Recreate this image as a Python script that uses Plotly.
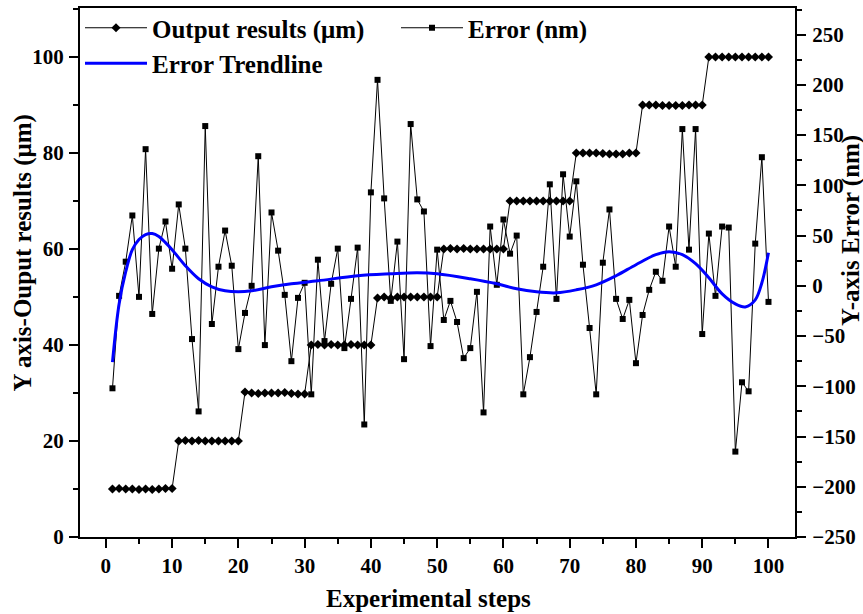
import plotly.graph_objects as go

steps = list(range(1, 101))

output_um = [
    10.0, 10.1, 10.0, 10.0, 9.9, 10.0, 9.9, 10.0, 10.1, 10.1,
    20.0, 20.1, 20.0, 20.1, 20.0, 20.0, 20.0, 20.0, 20.0, 20.0,
    30.2, 30.0, 29.9, 30.0, 30.0, 30.0, 30.1, 29.9, 29.8, 29.8,
    40.0, 40.1, 40.0, 40.1, 40.0, 40.0, 40.1, 40.0, 40.0, 40.0,
    49.8, 50.0, 49.7, 50.0, 50.0, 50.0, 50.0, 50.0, 50.0, 50.0,
    60.0, 60.1, 60.0, 60.1, 60.0, 60.0, 60.0, 60.0, 60.0, 60.0,
    70.0, 70.0, 70.0, 70.0, 70.0, 70.0, 70.0, 70.0, 70.0, 70.0,
    80.0, 80.0, 80.0, 80.0, 79.9, 79.8, 79.8, 79.8, 80.0, 80.0,
    90.0, 90.0, 90.0, 89.9, 89.9, 89.9, 89.9, 90.0, 90.0, 90.0,
    100.0, 100.0, 100.0, 100.0, 100.0, 100.0, 100.0, 100.0, 100.0, 100.0,
]

error_nm = [
    -102, -10, 24, 70, -11, 136, -28, 37, 64, 17,
    81, 37, -53, -125, 159, -38, 19, 55, 20, -63,
    -27, 0, 129, -59, 73, 35, -9, -75, -12, 3,
    -108, 26, -55, 2, 37, -62, -13, 38, -138, 93,
    205, 87, -15, 44, -73, 161, 86, 74, -60, 36,
    -34, -15, -36, -72, -62, -6, -126, 59, 1, 66,
    32, 50, -108, -71, -26, 19, 101, -13, 111, 49,
    104, 21, -42, -108, 23, 76, -13, -33, -14, -77,
    -29, -4, 14, 5, 59, 19, 156, 36, 156, -48,
    52, -10, 59, 58, -165, -96, -105, 42, 128, -16,
]

trend_x = [1, 2, 3, 4, 5, 6, 7, 8, 9, 10, 12, 14, 16, 18, 20, 22, 25, 28, 32,
           38, 43, 47, 50, 55, 59, 62, 65, 68, 71, 74, 77, 80, 83, 85, 87,
           89, 91, 93, 95, 96.5, 98, 99, 100]
trend_y = [-76, -18, 14, 36, 46, 51, 52, 49, 43, 36, 20, 7, -1, -5, -6, -5, -1, 2, 5,
           10, 12, 13, 12, 7, 2, -3, -6, -7, -4, 1, 10, 21, 31, 34, 31,
           22, 8, -8, -18, -21, -14, 3, 33]

x_ticks = list(range(0, 101, 10))
y_ticks = list(range(0, 101, 20))
y2_ticks = list(range(-250, 251, 50))

font_family = "Times New Roman, Liberation Serif, serif"
tick_font = dict(family=font_family, size=21, color="black", weight="bold")
title_font = dict(family=font_family, size=25, color="black", weight="bold")

fig = go.Figure()
fig.add_trace(go.Scatter(
    x=steps, y=output_um, name="Output results (μm)", mode="lines+markers",
    line=dict(color="black", width=1),
    marker=dict(symbol="diamond", size=7, color="black"),
    yaxis="y",
))
fig.add_trace(go.Scatter(
    x=steps, y=error_nm, name="Error (nm)", mode="lines+markers",
    line=dict(color="black", width=1),
    marker=dict(symbol="square", size=6, color="black"),
    yaxis="y2",
))
fig.add_trace(go.Scatter(
    x=trend_x, y=trend_y, name="Error Trendline", mode="lines",
    line=dict(color="#0000ff", width=3, shape="spline", smoothing=1.0),
    yaxis="y2",
))

axis_common = dict(
    showline=True, linecolor="black", linewidth=2,
    ticks="outside", ticklen=9, tickwidth=2, tickcolor="black",
    showgrid=False, zeroline=False,
    tickfont=tick_font,
)

fig.update_layout(
    width=863, height=614,
    margin=dict(l=80, r=68, t=8, b=77, autoexpand=False),
    paper_bgcolor="white", plot_bgcolor="white",
    font=dict(family=font_family, color="black"),
    xaxis=dict(
        range=[-3.9, 104], tickvals=x_ticks,
        mirror=True, ticklabelstandoff=0,
        minor=dict(ticks="outside", ticklen=5, tickwidth=2, tickcolor="black", dtick=5, tick0=0),
        **axis_common,
    ),
    yaxis=dict(
        range=[0, 110.2], tickvals=y_ticks, ticklabelstandoff=1,
        minor=dict(ticks="outside", ticklen=5, tickwidth=2, tickcolor="black", dtick=10, tick0=0),
        **axis_common,
    ),
    yaxis2=dict(
        range=[-250, 276.5], tickvals=y2_ticks,
        overlaying="y", side="right", ticklabelstandoff=2,
        minor=dict(ticks="outside", ticklen=5, tickwidth=2, tickcolor="black", dtick=25, tick0=0),
        **axis_common,
    ),
    yaxis3=dict(
        range=[-250, 276.5], tickvals=y2_ticks,
        overlaying="y", side="right", anchor="x",
        showline=False, showgrid=False, zeroline=False,
        ticks="inside", ticklen=7, tickwidth=2, tickcolor="black",
        showticklabels=False,
    ),
    legend=dict(
        orientation="h", x=0.0, y=1.0 + 3 / 529, xanchor="left", yanchor="top",
        entrywidth=239, entrywidthmode="pixels",
        bgcolor="rgba(0,0,0,0)", itemwidth=62,
        font=dict(family=font_family, size=25, color="black", weight="bold"),
        tracegroupgap=0,
    ),
    showlegend=True,
    annotations=[
        dict(text="Experimental steps", xref="paper", yref="paper",
             x=(428 - 80) / 715, y=-(598 - 537) / 529, xanchor="center", yanchor="middle",
             showarrow=False, font=title_font),
        dict(text="Y axis-Ouput results (μm)", xref="paper", yref="paper",
             x=-(80 - 22) / 715, y=(537 - 253.5) / 529, xanchor="center", yanchor="middle",
             textangle=-90, showarrow=False, font=title_font),
        dict(text="Y-axis Error (nm)", xref="paper", yref="paper",
             x=1 + (851 - 795) / 715, y=(537 - 231) / 529, xanchor="center", yanchor="middle",
             textangle=-90, showarrow=False, font=title_font),
    ],
)

fig.write_html("out.html")
